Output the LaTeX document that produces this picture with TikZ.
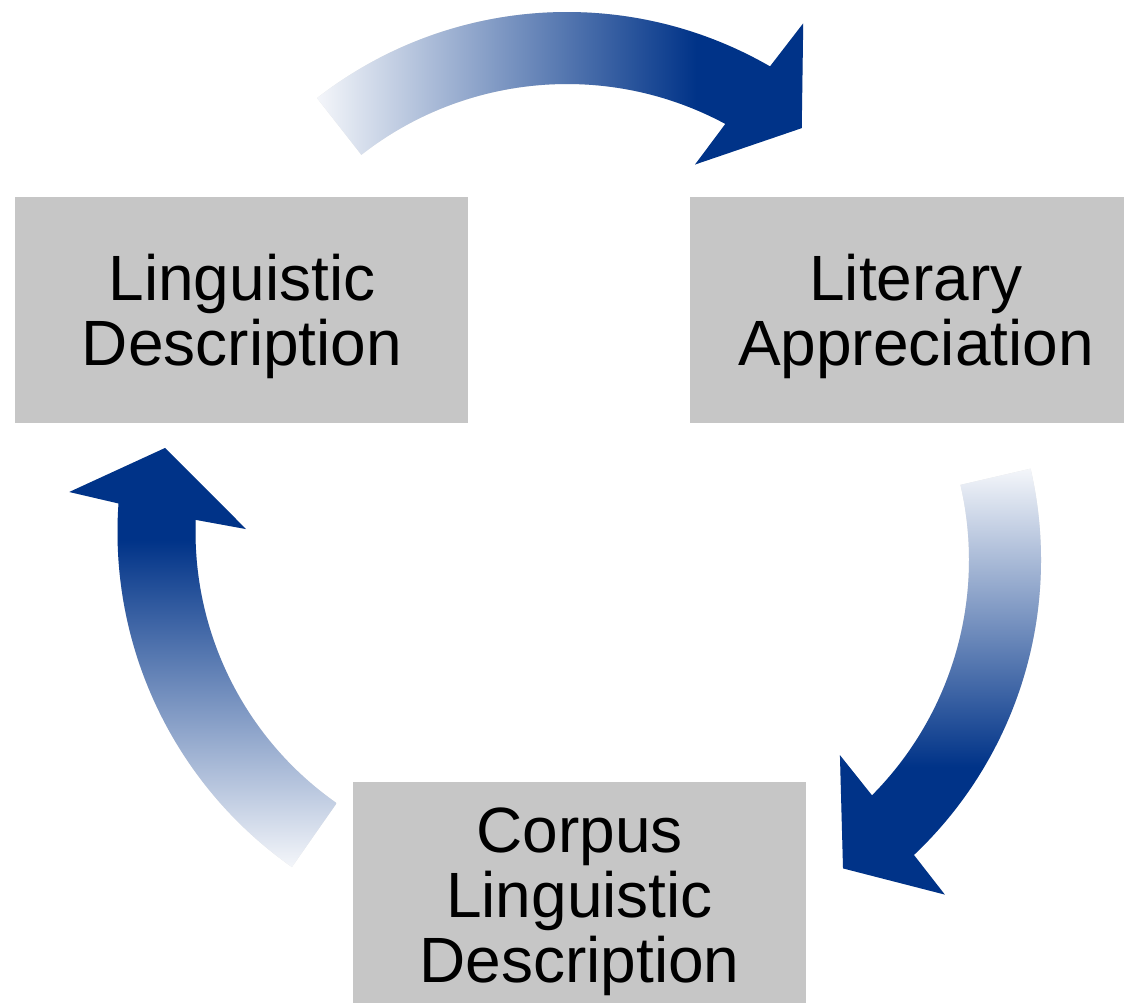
\documentclass[tikz,border=0pt]{standalone}
\usepackage{fontspec}
\setmainfont{Liberation Sans}
\usetikzlibrary{calc}
\definecolor{arrnavy}{RGB}{0,51,136}
\definecolor{arrlight}{RGB}{244,246,250}
\definecolor{boxgray}{RGB}{198,198,198}
\pgfdeclarehorizontalshading{topsh}{100bp}{color(0bp)=(arrlight); color(25bp)=(arrlight); color(64bp)=(arrnavy); color(100bp)=(arrnavy)}
\pgfdeclareverticalshading{rightsh}{100bp}{color(0bp)=(arrnavy); color(40bp)=(arrnavy); color(75bp)=(arrlight); color(100bp)=(arrlight)}
\pgfdeclareverticalshading{leftsh}{100bp}{color(0bp)=(arrlight); color(25bp)=(arrlight); color(64bp)=(arrnavy); color(100bp)=(arrnavy)}
\newcommand{\toparrowpath}{($(T)+(-128:406)$) arc[start angle=-128, end angle=-60, radius=406]
  -- ($(T)+(-59.1:460)$) -- ($(T)+(-51:373)$) -- ($(T)+(-63.2:284)$)
  -- ($(T)+(-61.7:334)$) arc[start angle=-61.7, end angle=-128, radius=334] -- cycle}
\newcommand{\rightarrowpath}{($(R)+(-13:406)$) arc[start angle=-13, end angle=46.6, radius=406]
  -- ($(R)+(47.2:456)$) -- ($(R)+(56:372)$) -- ($(R)+(43.6:283)$)
  -- ($(R)+(44.8:334)$) arc[start angle=44.8, end angle=-13, radius=334] -- cycle}
\newcommand{\leftarrowpath}{($(L)+(125:409)$) arc[start angle=125, end angle=184, radius=409]
  -- ($(L)+(185:459)$) -- ($(L)+(193.1:371)$) -- ($(L)+(180.6:280.5)$)
  -- ($(L)+(182.1:331)$) arc[start angle=182.1, end angle=125, radius=331] -- cycle}
\begin{document}
\begin{tikzpicture}[x=1pt,y=-1pt,
  box/.style={fill=boxgray, draw=none, inner sep=0pt, anchor=north west},
  lbl/.style={font=\fontsize{64}{65}\selectfont, align=center, inner sep=0pt, text=black},
  arrshadow/.style={fill=black, fill opacity=0.10, shift={(1.5,2.5)}}]
\useasboundingbox (0,0) rectangle (1124,1003);
\fill[white] (0,0) rectangle (1124,1003);

% boxes
\node[box, minimum width=453pt, minimum height=226pt] (lbox) at (15,197) {};
\node[box, minimum width=434pt, minimum height=226pt] (rbox) at (690,197) {};
\node[box, minimum width=453pt, minimum height=221pt] (bbox) at (353,782) {};

% labels
\node[lbl] (ltext) at (242,316) {Linguistic\\Description};
\node[lbl] (rtext) at (916,316) {Literary\\Appreciation};
\node[lbl] (btext) at (579.5,902) {Corpus\\Linguistic\\Description};

% arrow centres
\coordinate (T) at (567,418);
\coordinate (R) at (635,560);
\coordinate (L) at (526.5,532);

% top arrow
\path[arrshadow] \toparrowpath;
\path[shading=topsh] \toparrowpath;

% right arrow
\path[arrshadow] \rightarrowpath;
\path[shading=rightsh] \rightarrowpath;

% left arrow
\path[arrshadow] \leftarrowpath;
\path[shading=leftsh] \leftarrowpath;
\end{tikzpicture}
\end{document}
